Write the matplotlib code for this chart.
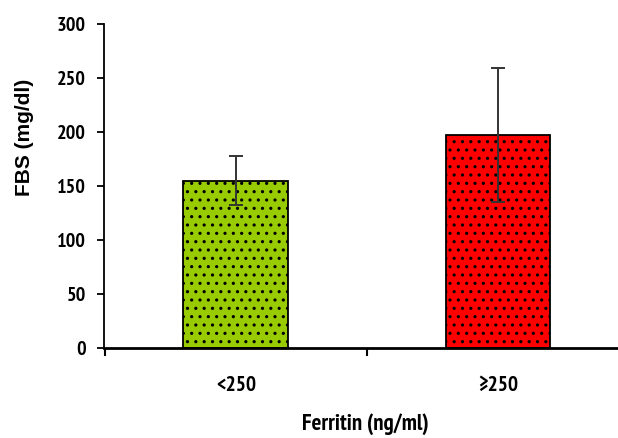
import matplotlib
matplotlib.use("Agg")
import matplotlib.pyplot as plt

# data
groups = ["<250", "\u2265250"]
fbs_mean = [155, 197]
fbs_err = [23, 62]
bar_colors = ["#99CC00", "#FF0000"]
y_ticks = [0, 50, 100, 150, 200, 250, 300]

plt.rcParams["font.family"] = ["PT Sans Narrow", "Liberation Sans", "DejaVu Sans"]
plt.rcParams["font.weight"] = "bold"
plt.rcParams["hatch.linewidth"] = 1.1
plt.rcParams["hatch.color"] = "black"

fig = plt.figure(figsize=(6.18, 4.38), dpi=100)
ax = fig.add_axes([0.168, 0.2055, 0.832, 0.7395])

x = list(range(len(groups)))
ax.bar(x, fbs_mean, width=0.4, color=bar_colors, edgecolor="black",
       linewidth=1.3, hatch="..")
ax.errorbar(x, fbs_mean, yerr=fbs_err, fmt="none", ecolor="#333333",
            elinewidth=1.4, capsize=4.7, capthick=1.4)

ax.set_xlim(-0.504, 1.458)
ax.set_ylim(0, 300)
ax.set_yticks(y_ticks)
ax.tick_params(axis="y", labelsize=14.5, length=5, width=1.3, pad=8)

# tick marks between categories, labels under each bar
ax.set_xticks([-0.5, 0.5])
ax.set_xticklabels(["", ""])
ax.tick_params(axis="x", which="major", length=6, width=1.5)
ax.set_xticks(x, minor=True)
ax.set_xticklabels(groups, minor=True, fontsize=15.5)
ax.tick_params(axis="x", which="minor", length=0, pad=20)

for s in ["top", "right"]:
    ax.spines[s].set_visible(False)
ax.spines["left"].set_linewidth(1.3)
ax.spines["bottom"].set_linewidth(2)

ax.set_ylabel("FBS (mg/dl)", fontsize=15, fontweight="bold",
              family=["Liberation Sans", "DejaVu Sans"])
ax.yaxis.set_label_coords(-0.136, 0.651)
ax.set_xlabel("Ferritin (ng/ml)", fontsize=16.5, fontweight="bold")
ax.xaxis.set_label_coords(0.508, -0.2)

fig.savefig("out.png", dpi=100)
